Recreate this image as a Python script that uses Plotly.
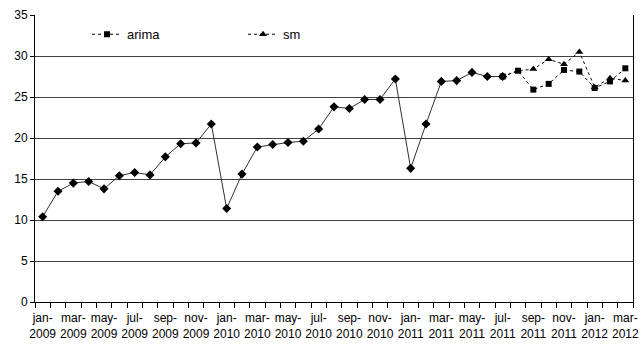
import plotly.graph_objects as go

months = ["jan-2009","feb-2009","mar-2009","apr-2009","may-2009","jun-2009","jul-2009","aug-2009",
          "sep-2009","oct-2009","nov-2009","dec-2009","jan-2010","feb-2010","mar-2010","apr-2010",
          "may-2010","jun-2010","jul-2010","aug-2010","sep-2010","oct-2010","nov-2010","dec-2010",
          "jan-2011","feb-2011","mar-2011","apr-2011","may-2011","jun-2011","jul-2011","aug-2011",
          "sep-2011","oct-2011","nov-2011","dec-2011","jan-2012","feb-2012","mar-2012"]

actual = [10.4, 13.5, 14.5, 14.7, 13.8, 15.4, 15.8, 15.5, 17.7, 19.3, 19.4, 21.7,
          11.4, 15.6, 18.9, 19.2, 19.45, 19.6, 21.1, 23.8, 23.6, 24.7, 24.7, 27.2,
          16.3, 21.7, 26.9, 27.0, 28.0, 27.5, 27.5]

forecast_months = ["jul-2011","aug-2011","sep-2011","oct-2011","nov-2011","dec-2011",
                   "jan-2012","feb-2012","mar-2012"]
arima = [27.5, 28.2, 25.9, 26.6, 28.3, 28.1, 26.1, 26.9, 28.5]
sm = [27.5, 28.2, 28.4, 29.6, 29.0, 30.5, 26.2, 27.3, 27.0]

y_ticks = [0, 5, 10, 15, 20, 25, 30, 35]

idx = {m: i for i, m in enumerate(months)}
x_actual = [idx[m] for m in months[:len(actual)]]
x_fc = [idx[m] for m in forecast_months]

label_pos = list(range(0, len(months), 2))
label_text = [months[i].replace("-", "-<br>") for i in label_pos]

fig = go.Figure()
fig.add_trace(go.Scatter(x=x_actual, y=actual, mode="lines+markers", showlegend=False,
                         line=dict(color="#303030", width=1),
                         marker=dict(symbol="diamond", size=7, color="black")))
fig.add_trace(go.Scatter(x=x_fc, y=arima, mode="lines+markers", name="arima",
                         line=dict(color="black", width=1, dash="dot"),
                         marker=dict(symbol="square", size=6, color="black")))
fig.add_trace(go.Scatter(x=x_fc, y=sm, mode="lines+markers", name="sm",
                         line=dict(color="black", width=1, dash="dot"),
                         marker=dict(symbol="triangle-up", size=7, color="black")))

fig.update_layout(
    width=641, height=345,
    margin=dict(l=35, r=8, t=15, b=43),
    paper_bgcolor="white", plot_bgcolor="white",
    font=dict(family="Liberation Sans, Arial, sans-serif", size=12, color="black"),
    showlegend=True,
    legend=dict(orientation="h", x=0.087, y=0.985, xanchor="left", yanchor="top",
                entrywidth=111, entrywidthmode="pixels",
                bgcolor="rgba(0,0,0,0)", font=dict(size=13)),
)
fig.update_xaxes(
    automargin=False,
    range=[-0.5, len(months) - 0.5],
    tickmode="array", tickvals=label_pos, ticktext=label_text,
    ticks="", showgrid=False, zeroline=False,
    showline=True, linecolor="black", linewidth=1,
    minor=dict(tickmode="array", tickvals=[i - 0.5 for i in range(len(months) + 1)],
               ticks="outside", ticklen=5, tickcolor="black", showgrid=False),
    tickfont=dict(size=12), ticklabelstandoff=5,
)
fig.update_yaxes(
    automargin=False,
    range=[0, 35], tickmode="array", tickvals=y_ticks,
    ticks="outside", ticklen=4, tickcolor="black",
    showgrid=True, gridcolor="#404040", gridwidth=1, zeroline=False,
    showline=True, linecolor="black", linewidth=1, mirror=True,
    tickfont=dict(size=12),
)

fig.write_html("out.html", config={"displayModeBar": False},
               post_script="document.body.style.margin='0px';")
